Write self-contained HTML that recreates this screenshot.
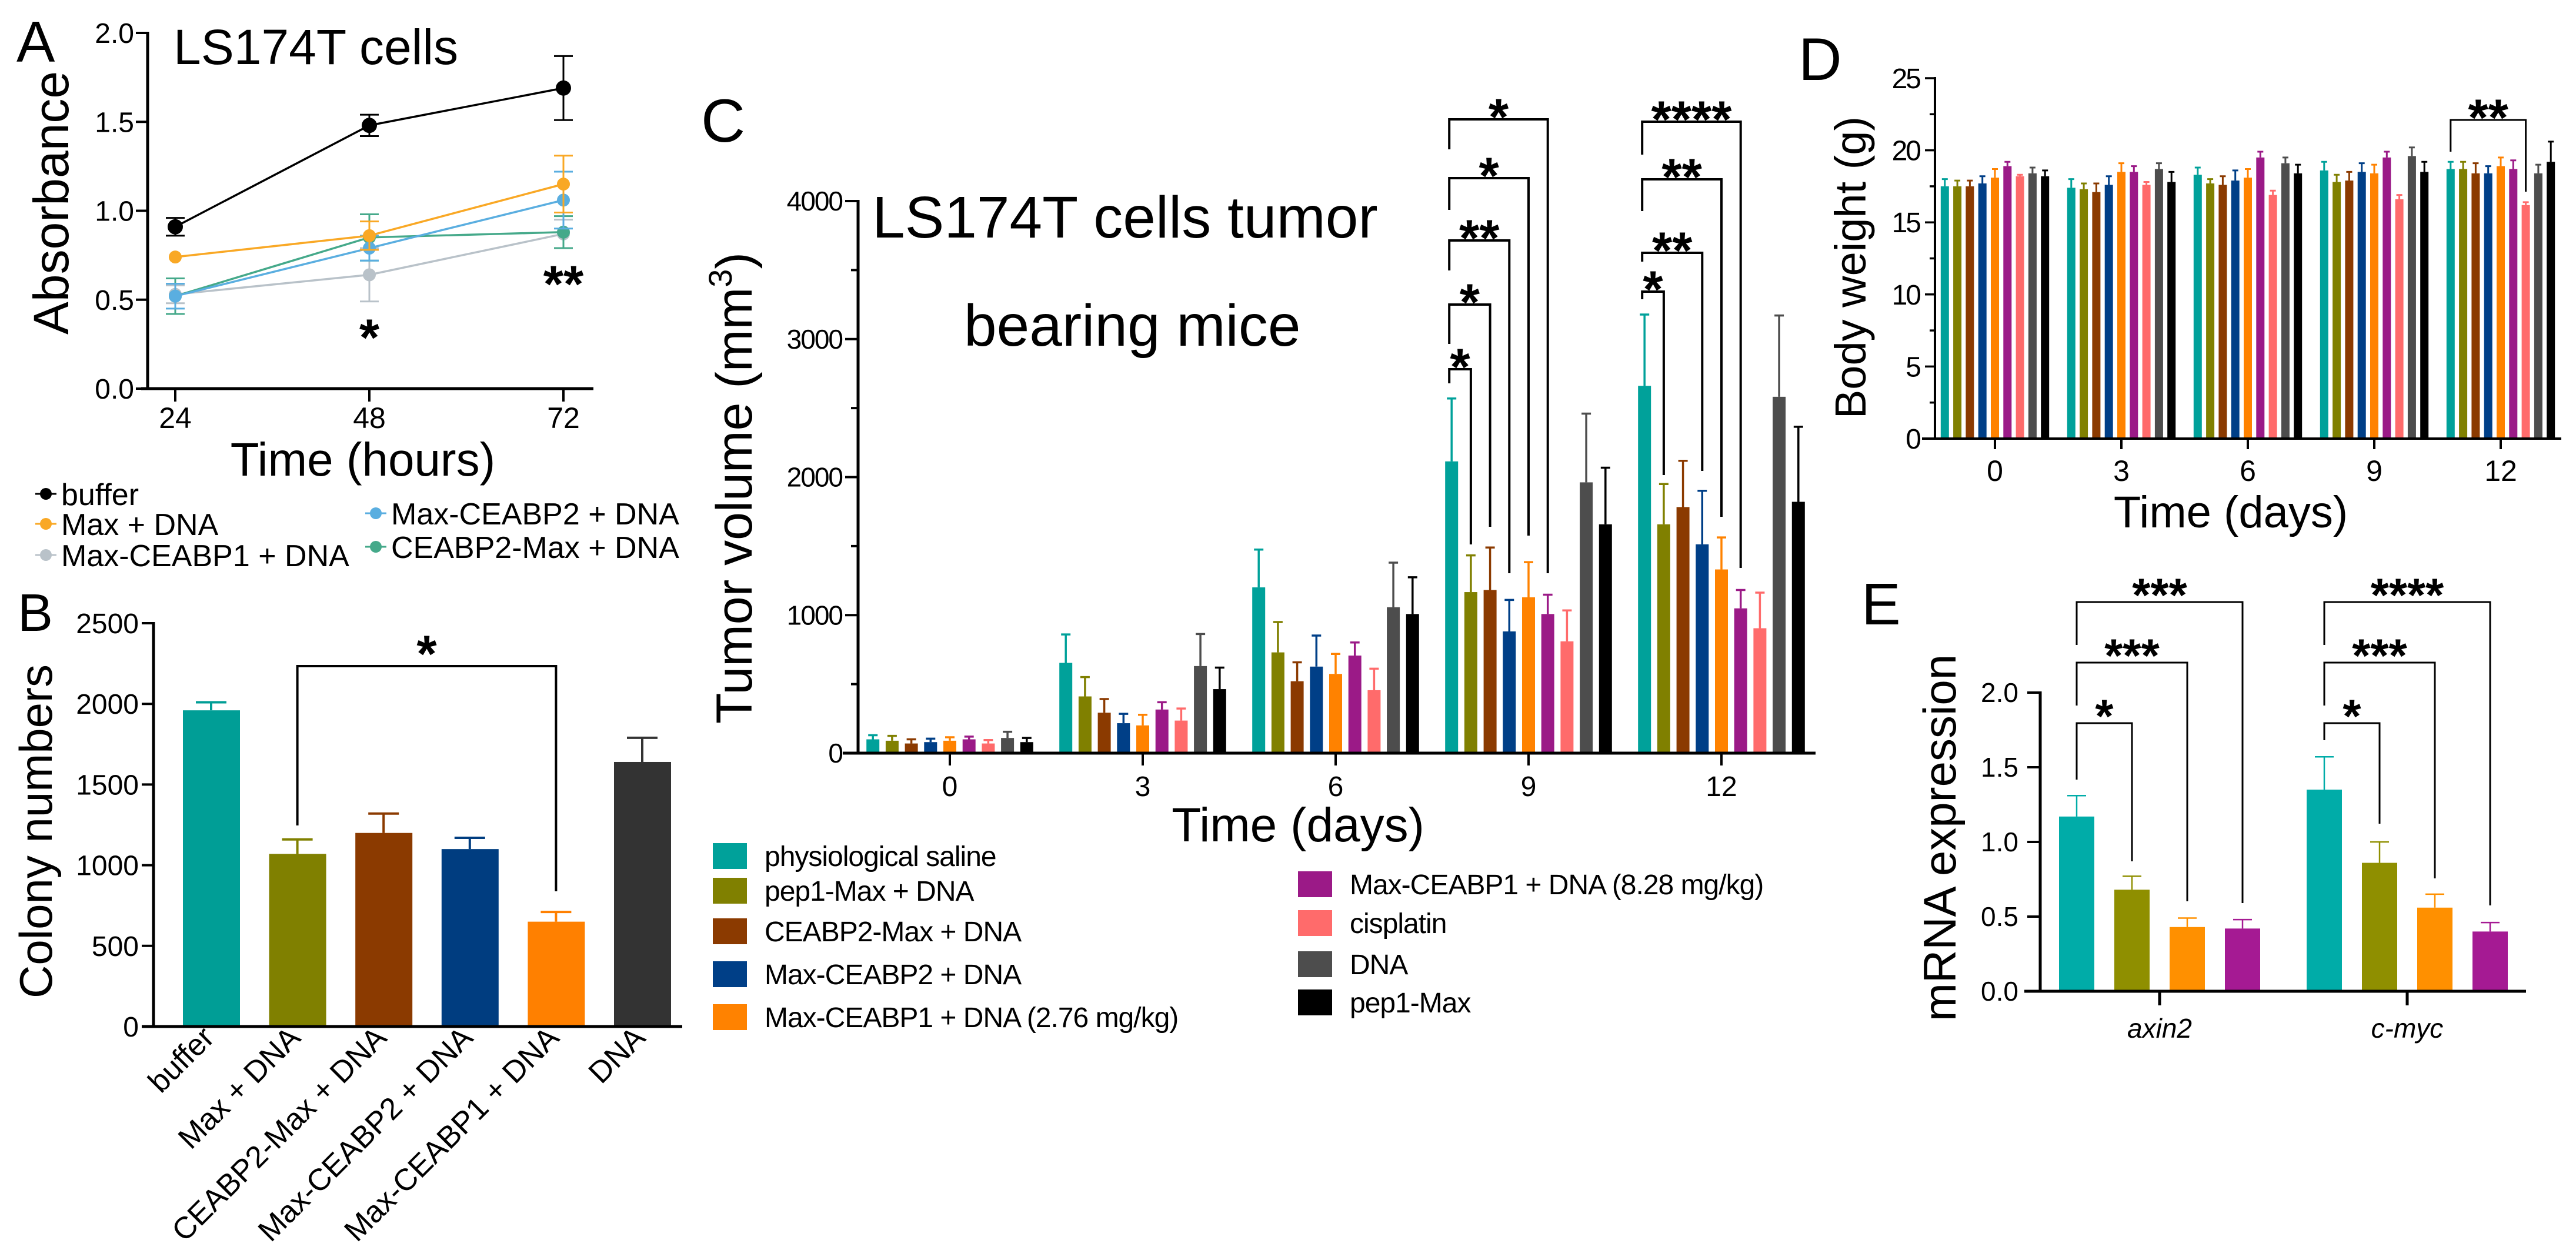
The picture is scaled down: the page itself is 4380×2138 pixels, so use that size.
<!DOCTYPE html>
<html><head><meta charset="utf-8"><style>
html,body{margin:0;padding:0;background:#fff;}
svg{display:block;font-family:"Liberation Sans",Arial,sans-serif;}
</style></head><body>
<svg id="fig" width="4380" height="2138" viewBox="0 0 4380 2138" xmlns="http://www.w3.org/2000/svg">
<rect width="4380" height="2138" fill="#fff"/>
<text x="28" y="105" font-size="98">A</text>
<text x="30" y="1073" font-size="90">B</text>
<text x="1192" y="241" font-size="104">C</text>
<text x="3058" y="136" font-size="102">D</text>
<text x="3165" y="1062" font-size="100">E</text>
<text x="295" y="109" font-size="84">LS174T cells</text>
<text transform="translate(116,345) rotate(-90)" text-anchor="middle" font-size="84">Absorbance</text>
<text x="617" y="809" text-anchor="middle" font-size="80">Time (hours)</text>
<text transform="translate(88,1414) rotate(-90)" text-anchor="middle" font-size="78">Colony numbers</text>
<text x="1483" y="404" font-size="100">LS174T cells tumor</text>
<text x="1639" y="588" font-size="100">bearing mice</text>
<text transform="translate(1278,830) rotate(-90)" text-anchor="middle" font-size="86">Tumor volume (mm<tspan dy="-34" font-size="56">3</tspan><tspan dy="34">)</tspan></text>
<text x="2207" y="1431" text-anchor="middle" font-size="82">Time (days)</text>
<text transform="translate(3172,455) rotate(-90)" text-anchor="middle" font-size="74">Body weight (g)</text>
<text x="3793" y="897" text-anchor="middle" font-size="76">Time (days)</text>
<text transform="translate(3325,1425) rotate(-90)" text-anchor="middle" font-size="78">mRNA expression</text>
<g id="layer"></g>
</svg>
<script>
const aTimes = ['24', '48', '72'];
const aBuffer = [0.91, 1.48, 1.69];
const aBufferErr = [0.05, 0.06, 0.18];
const aMax = [0.74, 0.86, 1.15];
const aMaxErr = [0.0, 0.08, 0.16];
const aMaxCE2 = [0.52, 0.79, 1.06];
const aMaxCE2Err = [0.07, 0.07, 0.16];
const aCE2Max = [0.52, 0.85, 0.88];
const aCE2MaxErr = [0.10, 0.13, 0.09];
const aMaxCE1 = [0.53, 0.64, 0.87];
const aMaxCE1Err = [0.05, 0.15, 0.08];
const aTicks = [0, 0.5, 1.0, 1.5, 2.0];
const aTickLabels = ['0.0', '0.5', '1.0', '1.5', '2.0'];

const bCats = ['buffer', 'Max + DNA', 'CEABP2-Max + DNA', 'Max-CEABP2 + DNA', 'Max-CEABP1 + DNA', 'DNA'];
const bVals = [1960, 1070, 1200, 1100, 650, 1640];
const bErr = [50, 90, 120, 70, 60, 150];
const bTicks = [0, 500, 1000, 1500, 2000, 2500];

const cDays = ['0', '3', '6', '9', '12'];
const cSaline = [100, 654, 1201, 2114, 2661];
const cSalineErr = [30, 206, 274, 456, 517];
const cPep1DNA = [90, 411, 730, 1167, 1658];
const cPep1DNAErr = [35, 140, 220, 266, 292];
const cCE2Max = [70, 293, 521, 1182, 1783];
const cCE2MaxErr = [30, 99, 137, 308, 335];
const cMaxCE2 = [80, 217, 627, 882, 1513];
const cMaxCE2Err = [25, 68, 225, 228, 388];
const cLow = [90, 201, 574, 1129, 1331];
const cLowErr = [25, 77, 145, 255, 232];
const cHigh = [100, 316, 707, 1008, 1049];
const cHighErr = [20, 53, 95, 140, 133];
const cCis = [70, 236, 456, 810, 905];
const cCisErr = [25, 87, 156, 224, 258];
const cDNA = [110, 631, 1057, 1962, 2582];
const cDNAErr = [45, 232, 323, 498, 589];
const cPep1 = [80, 464, 1008, 1658, 1821];
const cPep1Err = [30, 156, 266, 410, 544];
const cTicks = [0, 1000, 2000, 3000, 4000];

const dSaline = [17.5, 17.4, 18.3, 18.6, 18.7];
const dSalineErr = [0.5, 0.6, 0.5, 0.6, 0.5];
const dPep1DNA = [17.5, 17.3, 17.7, 17.8, 18.7];
const dPep1DNAErr = [0.4, 0.4, 0.3, 0.5, 0.5];
const dCE2Max = [17.5, 17.1, 17.6, 17.9, 18.4];
const dCE2MaxErr = [0.4, 0.6, 0.6, 0.6, 0.7];
const dMaxCE2 = [17.7, 17.6, 17.9, 18.5, 18.4];
const dMaxCE2Err = [0.5, 0.6, 0.7, 0.6, 0.5];
const dLow = [18.1, 18.5, 18.1, 18.4, 18.9];
const dLowErr = [0.6, 0.6, 0.6, 0.6, 0.6];
const dHigh = [18.9, 18.5, 19.5, 19.5, 18.7];
const dHighErr = [0.3, 0.4, 0.4, 0.4, 0.6];
const dCis = [18.2, 17.6, 16.9, 16.6, 16.2];
const dCisErr = [0.1, 0.2, 0.3, 0.3, 0.2];
const dDNA = [18.4, 18.7, 19.1, 19.6, 18.4];
const dDNAErr = [0.4, 0.4, 0.4, 0.6, 0.6];
const dPep1 = [18.2, 17.8, 18.4, 18.5, 19.2];
const dPep1Err = [0.4, 0.7, 0.6, 0.7, 1.4];
const dTicks = [0, 5, 10, 15, 20, 25];

const eGenes = ['axin2', 'c-myc'];
const eSaline = [1.17, 1.35];
const eSalineErr = [0.14, 0.22];
const ePep1DNA = [0.68, 0.86];
const ePep1DNAErr = [0.09, 0.14];
const eLow = [0.43, 0.56];
const eLowErr = [0.06, 0.09];
const eHigh = [0.42, 0.40];
const eHighErr = [0.06, 0.06];
const eTicks = [0, 0.5, 1.0, 1.5, 2.0];
const eTickLabels = ['0.0', '0.5', '1.0', '1.5', '2.0'];

const seriesNames = ['physiological saline', 'pep1-Max + DNA', 'CEABP2-Max + DNA', 'Max-CEABP2 + DNA', 'Max-CEABP1 + DNA (2.76 mg/kg)', 'Max-CEABP1 + DNA (8.28 mg/kg)', 'cisplatin', 'DNA', 'pep1-Max'];

const NS = 'http://www.w3.org/2000/svg';
const L = document.getElementById('layer');
function mk(tag, attrs, text) {
  const e = document.createElementNS(NS, tag);
  for (const k in attrs) e.setAttribute(k, attrs[k]);
  if (text !== undefined) e.textContent = text;
  L.appendChild(e);
  return e;
}
const cols = ['#00a19a', '#808000', '#8b3a00', '#003f87', '#ff8200', '#9b1a87', '#ff6b6b', '#4d4d4d', '#000000'];

// PANEL A
const ax = i => 298 + i * 330;
const ay = v => 661 - v * 302.5;
let el;
el = mk('line', {x1: 251, y1: 54, x2: 251, y2: 663, stroke: '#000', 'stroke-width': 5});


el = mk('line', {x1: 240, y1: 661, x2: 1009, y2: 661, stroke: '#000', 'stroke-width': 5});


aTicks.forEach((t, i) => {
  el = mk('line', {x1: 231, y1: ay(t), x2: 251, y2: ay(t), stroke: '#000', 'stroke-width': 4});
  
  
  el = mk('text', {x: 228, y: ay(t) + 17, 'text-anchor': 'end', 'font-size': 48}, aTickLabels[i]);
  
  
});
aTimes.forEach((t, i) => {
  el = mk('line', {x1: ax(i), y1: 661, x2: ax(i), y2: 683, stroke: '#000', 'stroke-width': 4});
  
  
  el = mk('text', {x: ax(i), y: 728, 'text-anchor': 'middle', 'font-size': 50}, t);
  
  
});
const aSeries = [
  [aMaxCE1, aMaxCE1Err, '#b9c2c9', 'max-ceabp1'],
  [aCE2Max, aCE2MaxErr, '#45a98a', 'ceabp2-max'],
  [aMaxCE2, aMaxCE2Err, '#5aaee0', 'max-ceabp2'],
  [aMax, aMaxErr, '#f9a825', 'max'],
  [aBuffer, aBufferErr, '#000000', 'buffer']
];
aSeries.forEach(s => {
  const [vals, errs, c, nm] = s;
  el = mk('polyline', {points: vals.map((v, i) => ax(i) + ',' + ay(v)).join(' '), fill: 'none', stroke: c, 'stroke-width': 3.5});
  
  
  vals.forEach((v, i) => {
    if (errs[i] > 0) {
      el = mk('path', {d: `M${ax(i)},${ay(v - errs[i])}V${ay(v + errs[i])}M${ax(i) - 16},${ay(v + errs[i])}h32M${ax(i) - 16},${ay(v - errs[i])}h32`, stroke: c, 'stroke-width': 3, fill: 'none'});
      
      
    }
    el = mk('circle', {cx: ax(i), cy: ay(v), r: (nm === 'buffer' ? 13 : 11), fill: c});
    
    
  });
});
function star(x, yc, s, name, size) {
  const F = size || 88;
  const e = mk('text', {x: x, y: yc + 0.57 * F, 'text-anchor': 'middle', 'font-size': F, 'font-weight': 'bold'}, s);
  return e;
}
el = star(ax(1), 554, '*');


el = star(ax(2), 463, '**');


const aLegNames = ['buffer', 'Max + DNA', 'Max-CEABP1 + DNA', 'Max-CEABP2 + DNA', 'CEABP2-Max + DNA'];
const aLegCols = ['#000000', '#f9a825', '#b9c2c9', '#5aaee0', '#45a98a'];
const aLegPos = [[60, 840], [60, 891], [60, 944], [621, 873], [621, 930]];
aLegNames.forEach((n, i) => {
  const [x, y] = aLegPos[i];
  el = mk('line', {x1: x, y1: y, x2: x + 36, y2: y, stroke: aLegCols[i], 'stroke-width': 3});
  
  
  el = mk('circle', {cx: x + 18, cy: y, r: 10, fill: aLegCols[i]});
  
  
  el = mk('text', {x: x + 44, y: y + 19, 'font-size': 52}, n);
  
  
});

// PANEL B
const bx = i => 359 + i * 146.6;
const by = v => 1746 - v * 0.2744;
const bCols = ['#009e96', '#808000', '#8b3a00', '#003d80', '#ff8000', '#333333'];
el = mk('line', {x1: 261, y1: 1058, x2: 261, y2: 1748, stroke: '#000', 'stroke-width': 5});


bTicks.forEach(t => {
  el = mk('line', {x1: 241, y1: by(t), x2: 261, y2: by(t), stroke: '#000', 'stroke-width': 4});
  
  
  el = mk('text', {x: 236, y: by(t) + 17, 'text-anchor': 'end', 'font-size': 48}, String(t));
  
  
});
bCats.forEach((c, i) => {
  el = mk('rect', {x: bx(i) - 48, y: by(bVals[i]), width: 97, height: by(0) - by(bVals[i]), fill: bCols[i]});
  
  
  el = mk('path', {d: `M${bx(i)},${by(bVals[i])}V${by(bVals[i] + bErr[i])}M${bx(i) - 26},${by(bVals[i] + bErr[i])}h52`, stroke: bCols[i], 'stroke-width': 4, fill: 'none'});
  
  
  el = mk('text', {transform: `translate(${bx(i) + 8},${1768}) rotate(-45)`, 'text-anchor': 'end', 'font-size': 52}, c);
  
  
});
el = mk('line', {x1: 241, y1: 1746, x2: 1160, y2: 1746, stroke: '#000', 'stroke-width': 5});


el = mk('path', {d: `M${bx(1)},1404V1133H${bx(4)}V1516`, stroke: '#000', 'stroke-width': 4, fill: 'none'});


el = star((bx(1) + bx(4)) / 2, 1092, '*');



// PANEL C
const cSer = [cSaline, cPep1DNA, cCE2Max, cMaxCE2, cLow, cHigh, cCis, cDNA, cPep1];
const cErr = [cSalineErr, cPep1DNAErr, cCE2MaxErr, cMaxCE2Err, cLowErr, cHighErr, cCisErr, cDNAErr, cPep1Err];
const cgx = g => 1615 + g * 328;
const cx = (g, i) => cgx(g) + (i - 4) * 32.7;
const cy = v => 1281 - v * 0.23475;
el = mk('line', {x1: 1459, y1: 340, x2: 1459, y2: 1283, stroke: '#000', 'stroke-width': 5});


for (let t = 0; t <= 4000; t += 500) {
  const major = t % 1000 === 0;
  el = mk('line', {x1: major ? 1437 : 1447, y1: cy(t), x2: 1459, y2: cy(t), stroke: '#000', 'stroke-width': 4});
  
  
}
cTicks.forEach(t => {
  el = mk('text', {x: 1432, y: cy(t) + 16, 'text-anchor': 'end', 'font-size': 46, 'letter-spacing': -2}, String(t));
  
  
});
cDays.forEach((d, g) => {
  cSer.forEach((s, i) => {
    const v = s[g], e = cErr[i][g];
    el = mk('rect', {x: cx(g, i) - 11, y: cy(v), width: 22, height: cy(0) - cy(v), fill: cols[i]});
    
    
    el = mk('path', {d: `M${cx(g, i)},${cy(v)}V${cy(v + e)}M${cx(g, i) - 8},${cy(v + e)}h16`, stroke: cols[i], 'stroke-width': 3.5, fill: 'none'});
    
    
  });
  el = mk('line', {x1: cgx(g), y1: 1281, x2: cgx(g), y2: 1302, stroke: '#000', 'stroke-width': 4});
  
  
  el = mk('text', {x: cgx(g), y: 1354, 'text-anchor': 'middle', 'font-size': 48}, d);
  
  
});
el = mk('line', {x1: 1433, y1: 1281, x2: 3087, y2: 1281, stroke: '#000', 'stroke-width': 5});


const cBr9 = [[1, 628, 652, 926, '*'], [2, 518, 585, 896, '*'], [3, 409, 460, 975, '**'], [4, 303, 357, 911, '*'], [5, 203, 254, 975, '*']];
const cBr12 = [[1, 496, 509, 808, '*'], [3, 430, 445, 801, '**'], [4, 305, 359, 879, '**'], [5, 207, 263, 966, '****']];
[[3, cBr9], [4, cBr12]].forEach(pair => {
  const g = pair[0];
  pair[1].forEach(b => {
    const x0 = cx(g, 0) - 4, x1 = cx(g, b[0]);
    el = mk('path', {d: `M${x0},${b[2]}V${b[1]}H${x1}V${b[3]}`, stroke: '#000', 'stroke-width': 4, fill: 'none'});
    
    
    el = star((x0 + x1) / 2, b[1] - 24, b[4]);
    
    
  });
});
const legRows = [[1212, 1456], [1212, 1515], [1212, 1584], [1212, 1657], [1212, 1730], [2207, 1504], [2207, 1570], [2207, 1640], [2207, 1705]];
seriesNames.forEach((n, i) => {
  const [x, y] = legRows[i];
  el = mk('rect', {x: x, y: y - 22, width: 58, height: 44, fill: cols[i]});
  
  
  el = mk('text', {x: x + 88, y: y + 17, 'font-size': 48, 'letter-spacing': -1}, n);
  
  
});

// PANEL D
const dSer = [dSaline, dPep1DNA, dCE2Max, dMaxCE2, dLow, dHigh, dCis, dDNA, dPep1];
const dErr = [dSalineErr, dPep1DNAErr, dCE2MaxErr, dMaxCE2Err, dLowErr, dHighErr, dCisErr, dDNAErr, dPep1Err];
const dgx = g => 3392 + g * 215;
const dx = (g, i) => dgx(g) + (i - 4) * 21.3;
const dy = v => 746 - v * 24.52;
el = mk('line', {x1: 3290, y1: 131, x2: 3290, y2: 748, stroke: '#000', 'stroke-width': 4});


for (let t = 0; t <= 25; t += 2.5) {
  const major = t % 5 === 0;
  el = mk('line', {x1: major ? 3273 : 3281, y1: dy(t), x2: 3290, y2: dy(t), stroke: '#000', 'stroke-width': 3.5});
  
  
}
dTicks.forEach(t => {
  el = mk('text', {x: 3264, y: dy(t) + 17, 'text-anchor': 'end', 'font-size': 48, 'letter-spacing': -3}, String(t));
  
  
});
cDays.forEach((d, g) => {
  dSer.forEach((s, i) => {
    const v = s[g], e = dErr[i][g];
    el = mk('rect', {x: dx(g, i) - 7, y: dy(v), width: 14, height: dy(0) - dy(v), fill: cols[i]});
    
    
    el = mk('path', {d: `M${dx(g, i)},${dy(v)}V${dy(v + e)}M${dx(g, i) - 5},${dy(v + e)}h10`, stroke: cols[i], 'stroke-width': 3, fill: 'none'});
    
    
  });
  el = mk('line', {x1: dgx(g), y1: 746, x2: dgx(g), y2: 764, stroke: '#000', 'stroke-width': 4});
  
  
  el = mk('text', {x: dgx(g), y: 818, 'text-anchor': 'middle', 'font-size': 50}, d);
  
  
});
el = mk('line', {x1: 3268, y1: 746, x2: 4355, y2: 746, stroke: '#000', 'stroke-width': 4});


el = mk('path', {d: `M${dx(4, 0)},258V204H${dx(4, 6)}V326`, stroke: '#000', 'stroke-width': 3, fill: 'none'});


el = star((dx(4, 0) + dx(4, 6)) / 2, 180, '**');



// PANEL E
const eSer = [eSaline, ePep1DNA, eLow, eHigh];
const eErr = [eSalineErr, ePep1DNAErr, eLowErr, eHighErr];
const eCols = ['#00aca8', '#8f8f00', '#ff9000', '#a51a93'];
const egx = g => 3672 + g * 421;
const ex = (g, i) => egx(g) + (i - 1.5) * 94;
const ey = v => 1686 - v * 254;
el = mk('line', {x1: 3469, y1: 1176, x2: 3469, y2: 1688, stroke: '#000', 'stroke-width': 5});


eTicks.forEach((t, i) => {
  el = mk('line', {x1: 3447, y1: ey(t), x2: 3469, y2: ey(t), stroke: '#000', 'stroke-width': 4});
  
  
  el = mk('text', {x: 3432, y: ey(t) + 16, 'text-anchor': 'end', 'font-size': 46}, eTickLabels[i]);
  
  
});
eGenes.forEach((gn, g) => {
  eSer.forEach((s, i) => {
    const v = s[g], e = eErr[i][g];
    el = mk('rect', {x: ex(g, i) - 30, y: ey(v), width: 60, height: ey(0) - ey(v), fill: eCols[i]});
    
    
    el = mk('path', {d: `M${ex(g, i)},${ey(v)}V${ey(v + e)}M${ex(g, i) - 16},${ey(v + e)}h32`, stroke: eCols[i], 'stroke-width': 2.5, fill: 'none'});
    
    
  });
  el = mk('line', {x1: egx(g), y1: 1686, x2: egx(g), y2: 1710, stroke: '#000', 'stroke-width': 5});
  
  
  el = mk('text', {x: egx(g), y: 1765, 'text-anchor': 'middle', 'font-size': 46, 'font-style': 'italic'}, gn);
  
  
});
el = mk('line', {x1: 3442, y1: 1686, x2: 4295, y2: 1686, stroke: '#000', 'stroke-width': 5});


const eBrA = [[1, 1230, 1326, 1465, '*'], [2, 1127, 1200, 1533, '***'], [3, 1024, 1097, 1536, '***']];
const eBrC = [[1, 1230, 1259, 1401, '*'], [2, 1127, 1200, 1494, '***'], [3, 1024, 1097, 1540, '****']];
[[0, eBrA], [1, eBrC]].forEach(pair => {
  const g = pair[0];
  pair[1].forEach(b => {
    const x0 = ex(g, 0), x1 = ex(g, b[0]);
    el = mk('path', {d: `M${x0},${b[2]}V${b[1]}H${x1}V${b[3]}`, stroke: '#000', 'stroke-width': 3, fill: 'none'});
    
    
    el = star((x0 + x1) / 2, b[1] - 30, b[4], null, 80);
    
    
  });
});
</script>
</body></html>
